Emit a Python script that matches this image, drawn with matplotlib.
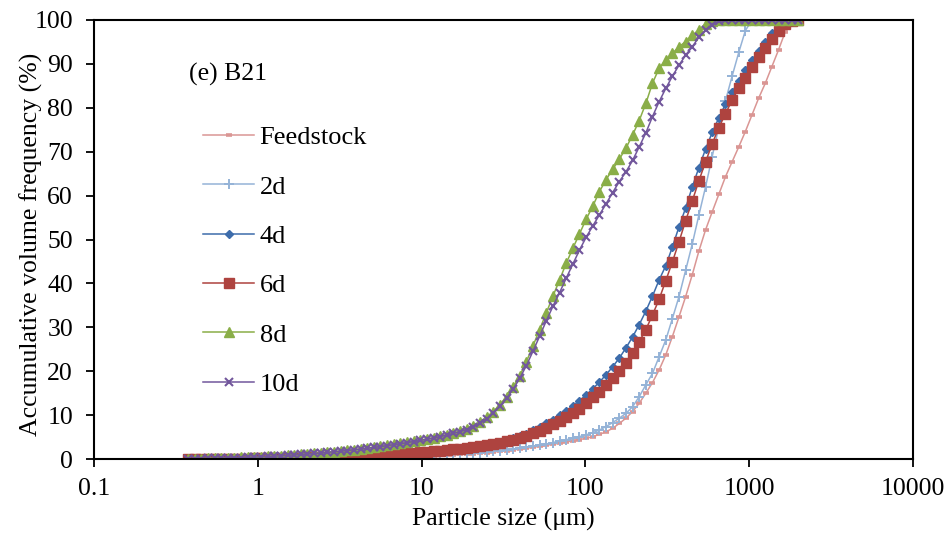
import matplotlib
matplotlib.use("Agg")
import matplotlib.pyplot as plt

# particle size channels (um)
size = [0.375, 0.412, 0.452, 0.496, 0.545, 0.598, 0.657, 0.721, 0.791, 0.869, 0.953,
        1.047, 1.149, 1.261, 1.385, 1.520, 1.668, 1.832, 2.011, 2.207, 2.423,
        2.660, 2.920, 3.205, 3.519, 3.863, 4.240, 4.655, 5.110, 5.610, 6.158,
        6.760, 7.421, 8.147, 8.943, 9.817, 10.78, 11.83, 12.99, 14.26, 15.65,
        17.18, 18.86, 20.71, 22.73, 24.95, 27.39, 30.07, 33.01, 36.24, 39.78,
        43.67, 47.94, 52.62, 57.77, 63.41, 69.61, 76.42, 83.89, 92.09, 101.1,
        111.0, 121.8, 133.7, 146.8, 161.2, 176.9, 194.2, 213.2, 234.1, 256.9,
        282.1, 309.6, 339.9, 373.1, 409.6, 449.7, 493.6, 541.9, 594.9, 653.0,
        716.9, 786.9, 863.9, 948.3, 1041, 1143, 1255, 1377, 1512, 1660, 1822, 2000]

feedstock = [0.0, 0.0, 0.01, 0.01, 0.01, 0.02, 0.02, 0.03, 0.03, 0.04, 0.04,
             0.05, 0.05, 0.06, 0.07, 0.08, 0.09, 0.1, 0.11, 0.12, 0.14,
             0.15, 0.17, 0.19, 0.21, 0.23, 0.26, 0.29, 0.32, 0.35, 0.39,
             0.43, 0.47, 0.52, 0.57, 0.62, 0.68, 0.74, 0.81, 0.88, 0.96,
             1.05, 1.14, 1.24, 1.35, 1.47, 1.6, 1.75, 1.91, 2.08, 2.27,
             2.47, 2.68, 2.9, 3.13, 3.37, 3.62, 3.88, 4.15, 4.42, 4.72,
             5.1, 5.6, 6.2, 7.0, 8.1, 9.3, 10.8, 12.7, 15.0, 17.4,
             20.3, 23.7, 27.9, 32.4, 37.0, 42.0, 47.4, 52.2, 56.3, 60.3,
             64.3, 67.7, 71.1, 74.6, 78.4, 82.2, 85.6, 89.4, 93.2, 97.3, 99.5, 100]

d2 = [0.0, 0.0, 0.01, 0.01, 0.01, 0.02, 0.02, 0.03, 0.03, 0.04, 0.05,
      0.05, 0.06, 0.07, 0.08, 0.09, 0.1, 0.11, 0.13, 0.14, 0.16,
      0.18, 0.2, 0.22, 0.24, 0.27, 0.3, 0.33, 0.36, 0.4, 0.44,
      0.48, 0.53, 0.58, 0.63, 0.69, 0.75, 0.82, 0.89, 0.97, 1.05,
      1.14, 1.24, 1.35, 1.47, 1.6, 1.74, 1.9, 2.07, 2.25, 2.45,
      2.66, 2.88, 3.11, 3.4, 3.75, 4.1, 4.4, 4.7, 5.1, 5.5,
      6.0, 6.6, 7.4, 8.3, 9.3, 10.4, 11.9, 14.2, 16.9, 19.5,
      23.3, 27.1, 32.0, 37.0, 43.0, 49.0, 55.6, 62.0, 68.9, 75.7,
      81.6, 87.2, 92.6, 97.6, 100, 100, 100, 100, 100, 100, 100, 100]

d4 = [0.01, 0.02, 0.03, 0.04, 0.05, 0.06, 0.07, 0.09, 0.1, 0.12, 0.14,
      0.16, 0.18, 0.21, 0.24, 0.27, 0.3, 0.34, 0.38, 0.42, 0.47,
      0.52, 0.57, 0.62, 0.68, 0.74, 0.8, 0.87, 0.94, 1.02, 1.1,
      1.18, 1.27, 1.37, 1.47, 1.58, 1.7, 1.82, 1.95, 2.1, 2.26,
      2.43, 2.62, 2.83, 3.06, 3.32, 3.6, 3.92, 4.28, 4.7, 5.2,
      5.8, 6.5, 7.3, 8.1, 9.0, 10.0, 11.0, 12.1, 13.3, 14.6,
      16.0, 17.5, 19.2, 21.0, 23.0, 25.3, 27.8, 30.6, 33.7, 37.1,
      40.8, 44.0, 48.3, 52.9, 57.2, 62.0, 66.4, 70.6, 74.4, 77.7,
      80.8, 83.6, 86.2, 88.7, 90.9, 93.0, 95.0, 97.0, 98.6, 99.6, 99.9, 100]

d6 = [0.01, 0.02, 0.03, 0.04, 0.05, 0.06, 0.07, 0.08, 0.1, 0.11, 0.13,
      0.15, 0.17, 0.2, 0.23, 0.26, 0.29, 0.33, 0.37, 0.41, 0.45,
      0.5, 0.55, 0.6, 0.66, 0.72, 0.78, 0.85, 0.92, 0.99, 1.07,
      1.15, 1.24, 1.33, 1.43, 1.54, 1.65, 1.77, 1.9, 2.04, 2.19,
      2.35, 2.53, 2.72, 2.93, 3.16, 3.42, 3.7, 4.02, 4.38, 4.8,
      5.28, 5.82, 6.45, 7.15, 7.9, 8.7, 9.5, 10.4, 11.5, 12.8,
      14.1, 15.3, 16.9, 18.4, 20.1, 21.9, 24.2, 26.7, 29.5, 32.8,
      36.4, 40.6, 44.9, 49.5, 54.3, 58.8, 63.4, 67.7, 71.8, 75.5,
      78.6, 81.8, 84.4, 86.9, 89.4, 91.5, 93.6, 95.6, 97.6, 99.0, 99.8, 100]

d8 = [0.05, 0.08, 0.11, 0.14, 0.17, 0.21, 0.25, 0.3, 0.35, 0.41, 0.47,
      0.54, 0.61, 0.69, 0.78, 0.87, 0.97, 1.07, 1.18, 1.3, 1.42,
      1.55, 1.69, 1.84, 2.0, 2.16, 2.33, 2.51, 2.7, 2.9, 3.11,
      3.33, 3.56, 3.8, 4.05, 4.32, 4.6, 4.9, 5.22, 5.57, 5.95,
      6.4, 6.9, 7.6, 8.5, 9.5, 10.8, 12.4, 14.2, 16.4, 19.0,
      22.2, 25.8, 29.5, 33.3, 37.1, 40.8, 44.6, 48.0, 51.3, 54.6,
      57.6, 60.9, 63.6, 66.0, 68.3, 70.8, 73.8, 77.1, 81.0, 85.6,
      89.0, 90.9, 92.4, 93.9, 95.1, 96.6, 97.7, 99.2, 99.8, 100,
      100, 100, 100, 100, 100, 100, 100, 100, 100, 100, 100, 100]

d10 = [0.04, 0.07, 0.1, 0.13, 0.16, 0.2, 0.24, 0.28, 0.33, 0.39, 0.45,
       0.52, 0.59, 0.67, 0.75, 0.84, 0.94, 1.04, 1.15, 1.26, 1.38,
       1.51, 1.65, 1.79, 1.94, 2.1, 2.27, 2.45, 2.64, 2.83, 3.04,
       3.26, 3.48, 3.72, 3.97, 4.23, 4.5, 4.8, 5.1, 5.45, 5.82,
       6.25, 6.7, 7.3, 8.2, 9.2, 10.5, 12.0, 13.8, 15.9, 18.4,
       21.3, 24.6, 28.0, 31.5, 34.8, 37.9, 41.2, 44.4, 47.6, 50.5,
       53.1, 55.6, 58.1, 60.7, 63.2, 65.4, 68.0, 71.1, 74.3, 78.0,
       81.4, 84.4, 87.2, 89.7, 92.0, 93.9, 96.1, 97.7, 98.8, 99.7,
       100, 100, 100, 100, 100, 100, 100, 100, 100, 100, 100, 100]

xticks = [0.1, 1, 10, 100, 1000, 10000]
xticklabels = ["0.1", "1", "10", "100", "1000", "10000"]

plt.rcParams['font.family'] = ['Liberation Serif', 'DejaVu Serif']
fs = 18.5

fig = plt.figure(figsize=(9.5, 5.42), dpi=100)
ax = fig.add_axes([0.0989, 0.1531, 0.8621, 0.8100])

ax.plot(size, feedstock, color="#DA9694", lw=1.1, marker="_", ms=5, mew=2.6, label="Feedstock")
ax.plot(size, d2, color="#95B3D7", lw=1.1, marker="+", ms=7.5, mew=1.4, label="2d")
ax.plot(size, d4, color="#3D6CAB", lw=1.1, marker="D", ms=4.2, label="4d")
ax.plot(size, d6, color="#AE433F", lw=1.1, marker="s", ms=6.7, label="6d")
ax.plot(size, d8, color="#8AAE48", lw=1.1, marker="^", ms=7, label="8d")
ax.plot(size, d10, color="#72579C", lw=1.1, marker="x", ms=6, mew=1.5, label="10d")

ax.set_xscale("log")
ax.set_xlim(0.1, 10000)
ax.set_ylim(0, 100)
ax.set_xticks(xticks)
ax.set_xticklabels(xticklabels)
ax.minorticks_off()
ax.set_yticks(range(0, 101, 10))

for s in ax.spines.values():
    s.set_linewidth(1.5)
    s.set_color("black")
ax.tick_params(axis="both", direction="out", length=6, width=1.3, labelsize=fs)
ax.tick_params(axis="y", pad=9)
ax.tick_params(axis="x", pad=8)

ax.set_xlabel("Particle size (\u03bcm)", fontsize=fs, labelpad=5)
ax.set_ylabel("Accumulative volume frequency (%)", fontsize=fs, va="center")
ax.yaxis.set_label_coords(-0.076, 0.49)

ax.text(0.116, 0.875, "(e) B21", transform=ax.transAxes, fontsize=fs, va="center", ha="left")

ax.legend(loc="upper left", bbox_to_anchor=(0.133, 0.759), frameon=False, fontsize=19,
          handlelength=1.95, handletextpad=0.2, labelspacing=0.98, borderpad=0, borderaxespad=0)

fig.savefig("out.png", dpi=100)
